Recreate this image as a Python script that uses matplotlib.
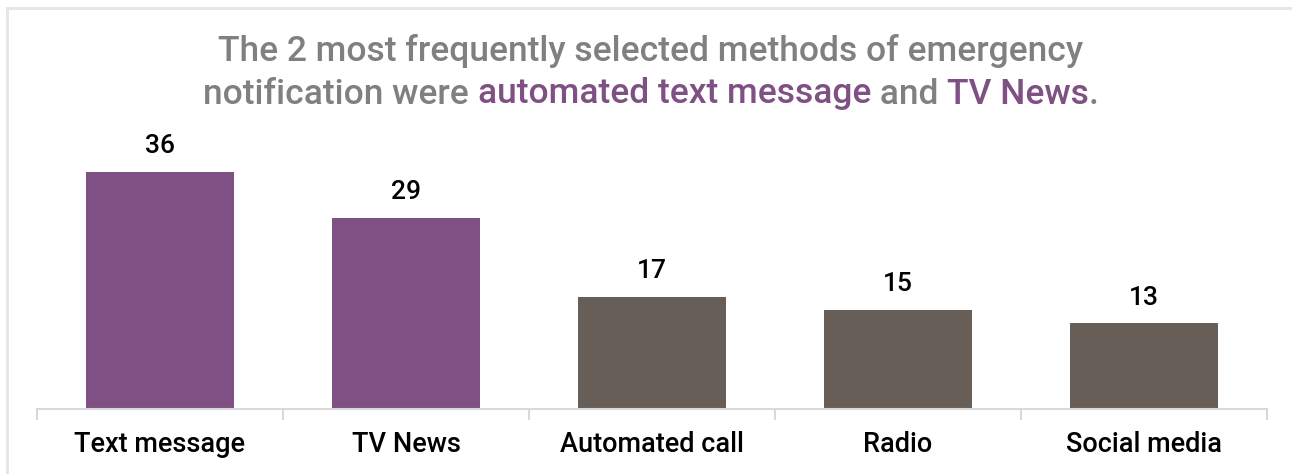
import matplotlib
matplotlib.use("Agg")
import matplotlib.pyplot as plt
from matplotlib.lines import Line2D

# Data
categories = ["Text message", "TV News", "Automated call", "Radio", "Social media"]
values = [36, 29, 17, 15, 13]
highlight = [True, True, False, False, False]

PURPLE = "#7f5083"
GRAY_BAR = "#675e58"
TITLE_GRAY = "#808080"
AXIS_GRAY = "#d9d9d9"
FRAME_GRAY = "#e4e4ea"

W, H, DPI = 1292, 474, 100
fig = plt.figure(figsize=(W / DPI, H / DPI), dpi=DPI)
fig.patch.set_facecolor("white")

label_font = ["Roboto", "Liberation Sans", "DejaVu Sans"]
title_font = ["Roboto", "Liberation Sans", "DejaVu Sans"]

# Axes placed in pixel terms
ax_left, ax_right = 37, 1267
ax_base, ax_top = 409, 130
ax = fig.add_axes([ax_left / W, (H - ax_base) / H,
                   (ax_right - ax_left) / W, (ax_base - ax_top) / H])

x = list(range(len(categories)))
colors = [PURPLE if h else GRAY_BAR for h in highlight]
bars = ax.bar(x, values, width=0.6, color=colors, zorder=2)

ax.set_xlim(-0.5, len(categories) - 0.5)
ax.set_ylim(0, 42.4)

for rect, v in zip(bars, values):
    ax.annotate(f"{v}", (rect.get_x() + rect.get_width() / 2, v),
                xytext=(0, 10), textcoords="offset points",
                ha="center", va="bottom", fontsize=19, weight=500,
                family=label_font, color="black")

for s in ("top", "right", "left"):
    ax.spines[s].set_visible(False)
ax.spines["bottom"].set_color(AXIS_GRAY)
ax.spines["bottom"].set_linewidth(1.5)
ax.set_yticks([])

# Ticks at category boundaries, labels at category centres
ax.set_xticks([i - 0.5 for i in range(len(categories) + 1)])
ax.set_xticklabels([])
ax.tick_params(axis="x", direction="out", length=8, width=1.5, color=AXIS_GRAY)
ax.set_xticks(x, minor=True)
ax.set_xticklabels(categories, minor=True, fontsize=19.5, weight=500, family=label_font)
ax.tick_params(axis="x", which="minor", length=0, pad=16)

# Outer frame (left and top edges)
fig.add_artist(Line2D([6.5 / W, 6.5 / W], [0, 1 - 7.5 / H],
                      transform=fig.transFigure, color=FRAME_GRAY, lw=2))
fig.add_artist(Line2D([6.5 / W, 1], [1 - 7.5 / H, 1 - 7.5 / H],
                      transform=fig.transFigure, color=FRAME_GRAY, lw=2))

# Title with highlighted phrases
title_lines = [
    [("The 2 most frequently selected methods of emergency", TITLE_GRAY)],
    [("notification were ", TITLE_GRAY), ("automated text message", PURPLE),
     (" and ", TITLE_GRAY), ("TV News", PURPLE), (".", TITLE_GRAY)],
]
title_y = [51, 94]
title_size = 25.5

renderer = fig.canvas.get_renderer()
for parts, ypix in zip(title_lines, title_y):
    texts = []
    total = 0.0
    for s, c in parts:
        t = fig.text(0, 1 - ypix / H, s, color=c, fontsize=title_size, weight=500,
                     family=title_font, ha="left", va="center")
        w = t.get_window_extent(renderer).width
        texts.append((t, w))
        total += w
    xpos = (W / 2 + 5) - total / 2
    for t, w in texts:
        t.set_x(xpos / W)
        xpos += w

fig.savefig("out.png", dpi=DPI, facecolor="white")
